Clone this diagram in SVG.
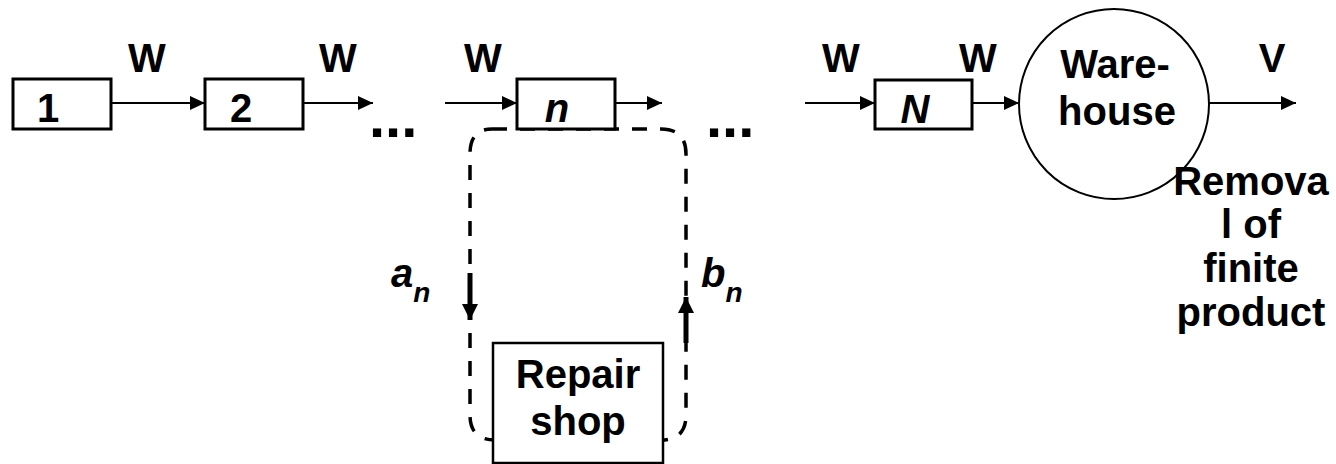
<svg xmlns="http://www.w3.org/2000/svg" width="1336" height="464" viewBox="0 0 1336 464">
<style>
text{font-family:"Liberation Sans",Arial,sans-serif;font-weight:bold;font-size:40px;fill:#000}
.it{font-style:italic}
.box{fill:#fff;stroke:#000;stroke-width:3}
.ln{stroke:#000;stroke-width:2;fill:none}
.dash{stroke:#000;stroke-width:3.5;fill:none;stroke-dasharray:15 13}
.thick{stroke:#000;stroke-width:5;fill:none}
</style>
<defs>
<marker id="ah" viewBox="0 0 15 14" refX="15" refY="7" markerWidth="15" markerHeight="14" markerUnits="userSpaceOnUse" orient="auto"><path d="M0,0 L15,7 L0,14 Z" fill="#000"/></marker>
<marker id="ahb" viewBox="0 0 16 16" refX="16" refY="8" markerWidth="16" markerHeight="16" markerUnits="userSpaceOnUse" orient="auto"><path d="M0,0 L16,8 L0,16 Z" fill="#000"/></marker>
</defs>
<g id="loop">
<path class="dash" d="M492,129 L661,129 Q686,129 686,154 L686,415 Q686,440 661,440 L495,440 Q470,440 470,415 L470,154 Q470,129 492,129"/>
</g>
<g id="connectors">
<line class="ln" x1="111" y1="103" x2="205" y2="103" marker-end="url(#ah)"/>
<line class="ln" x1="303" y1="103" x2="373" y2="103" marker-end="url(#ah)"/>
<line class="ln" x1="445" y1="103" x2="517" y2="103" marker-end="url(#ah)"/>
<line class="ln" x1="615" y1="103" x2="662" y2="103" marker-end="url(#ah)"/>
<line class="ln" x1="805" y1="103" x2="875" y2="103" marker-end="url(#ah)"/>
<line class="ln" x1="972" y1="103" x2="1019" y2="103" marker-end="url(#ah)"/>
<line class="ln" x1="1209" y1="103" x2="1296" y2="103" marker-end="url(#ah)"/>
<line class="thick" x1="470" y1="273" x2="470" y2="320" marker-end="url(#ahb)"/>
<line class="thick" x1="686" y1="343" x2="686" y2="297" marker-end="url(#ahb)"/>
</g>
<g id="labels">
<text x="147" y="72" text-anchor="middle">W</text>
<text x="338" y="72" text-anchor="middle">W</text>
<text x="483" y="72" text-anchor="middle">W</text>
<text x="841" y="72" text-anchor="middle">W</text>
<text x="978" y="72" text-anchor="middle">W</text>
<text x="1272" y="72" text-anchor="middle">V</text>
<text x="369" y="137" style="font-size:58px">...</text>
<text x="706" y="137" style="font-size:58px">...</text>
<text class="it" x="391" y="287">a<tspan style="font-size:28px" dy="15">n</tspan></text>
<text class="it" x="701" y="287">b<tspan style="font-size:28px" dy="15">n</tspan></text>
</g>
<g id="node1"><rect class="box" x="13" y="79" width="98" height="50"/><text x="48" y="122" text-anchor="middle">1</text></g>
<g id="node2"><rect class="box" x="205" y="79" width="98" height="50"/><text x="241" y="122" text-anchor="middle">2</text></g>
<g id="noden"><rect class="box" x="517" y="79" width="98" height="50"/><text class="it" x="557" y="122" text-anchor="middle">n</text></g>
<g id="nodeN"><rect class="box" x="875" y="80" width="97" height="49"/><text class="it" x="915" y="123" text-anchor="middle">N</text></g>
<g id="warehouse"><circle cx="1114" cy="104" r="95" fill="#fff" stroke="#000" stroke-width="2"/><text x="1115" y="78" text-anchor="middle">Ware-</text><text x="1117" y="125" text-anchor="middle">house</text></g>
<g id="removal">
<text x="1251" y="195" text-anchor="middle">Remova</text>
<text x="1251" y="238" text-anchor="middle">l of</text>
<text x="1251" y="282" text-anchor="middle">finite</text>
<text x="1251" y="326" text-anchor="middle">product</text>
</g>
<g id="repair"><rect x="493" y="343" width="170" height="120" fill="#fff" stroke="#000" stroke-width="2.5"/><text x="578" y="388" text-anchor="middle">Repair</text><text x="578" y="435" text-anchor="middle">shop</text></g>
</svg>
